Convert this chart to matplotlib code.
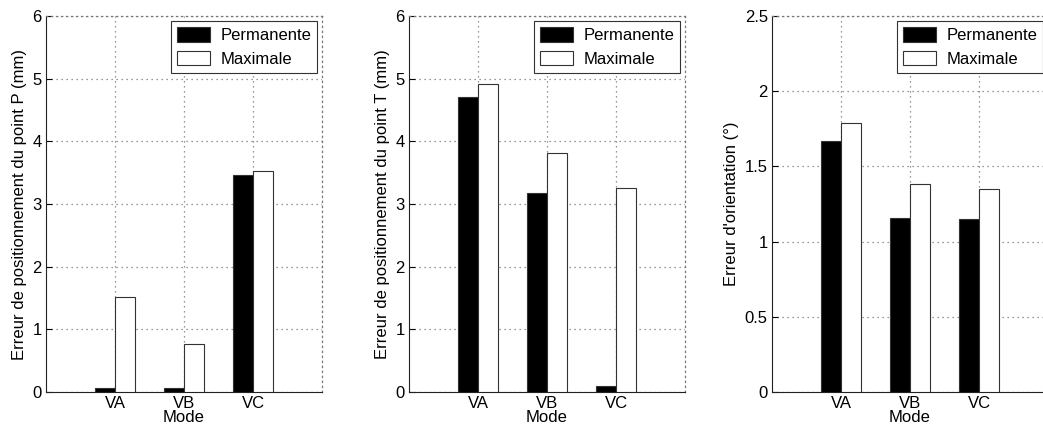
import numpy as np
import matplotlib
matplotlib.use("Agg")
import matplotlib.pyplot as plt

plt.rcParams['font.family'] = ['Liberation Sans', 'DejaVu Sans']
plt.rcParams['font.size'] = 12

modes = ["VA", "VB", "VC"]

# point P (mm)
perm_P = [0.07, 0.06, 3.47]
max_P = [1.52, 0.76, 3.52]

# point T (mm)
perm_T = [4.70, 3.17, 0.10]
max_T = [4.92, 3.82, 3.26]

# orientation (deg)
perm_O = [1.67, 1.16, 1.15]
max_O = [1.79, 1.38, 1.35]

panels = [
    (perm_P, max_P, "Erreur de positionnement du point P (mm)", 6, np.arange(0, 7, 1)),
    (perm_T, max_T, "Erreur de positionnement du point T (mm)", 6, np.arange(0, 7, 1)),
    (perm_O, max_O, "Erreur d'orientation (°)", 2.5, np.arange(0, 2.75, 0.5)),
]

fig = plt.figure(figsize=(10.43, 4.32), dpi=100)
lefts = [46, 409, 772]
W, H = 1043, 432
width = 0.29
x = np.arange(1, len(modes) + 1)
dots = (0, (1, 3))

for left, (perm, mx, ylabel, ymax, yticks) in zip(lefts, panels):
    ax = fig.add_axes([left / W, 40 / H, 276 / W, 376 / H])
    ax.bar(x - width / 2, perm, width, color="black", edgecolor="#333333",
           linewidth=0.8, label="Permanente", zorder=3)
    ax.bar(x + width / 2, mx, width, color="white", edgecolor="#333333",
           linewidth=0.8, label="Maximale", zorder=3)
    ax.set_xlim(0, 4)
    ax.set_ylim(0, ymax)
    ax.set_xticks(x)
    ax.set_xticklabels(modes)
    ax.set_yticks(yticks)
    ax.set_yticklabels([f"{t:g}" for t in yticks])
    ax.tick_params(direction="in", length=4, width=0.8, pad=3)
    ax.grid(True, linestyle=dots, color="#777777", linewidth=0.9, zorder=0)
    for side in ["top", "right"]:
        ax.spines[side].set_linestyle(dots)
        ax.spines[side].set_color("#777777")
        ax.spines[side].set_linewidth(0.9)
    for side in ["left", "bottom"]:
        ax.spines[side].set_color("#222222")
        ax.spines[side].set_linewidth(0.8)
    ax.set_xlabel("Mode", labelpad=-1)
    ax.set_ylabel(ylabel, labelpad=4)
    leg = ax.legend(loc="upper right", fancybox=False, framealpha=1,
                    edgecolor="#333333", handlelength=2.0, handleheight=1.0,
                    borderaxespad=0.3, labelspacing=0.45, handletextpad=0.6,
                    borderpad=0.35)
    leg.get_frame().set_linewidth(0.8)

fig.savefig("out.png", dpi=100)
